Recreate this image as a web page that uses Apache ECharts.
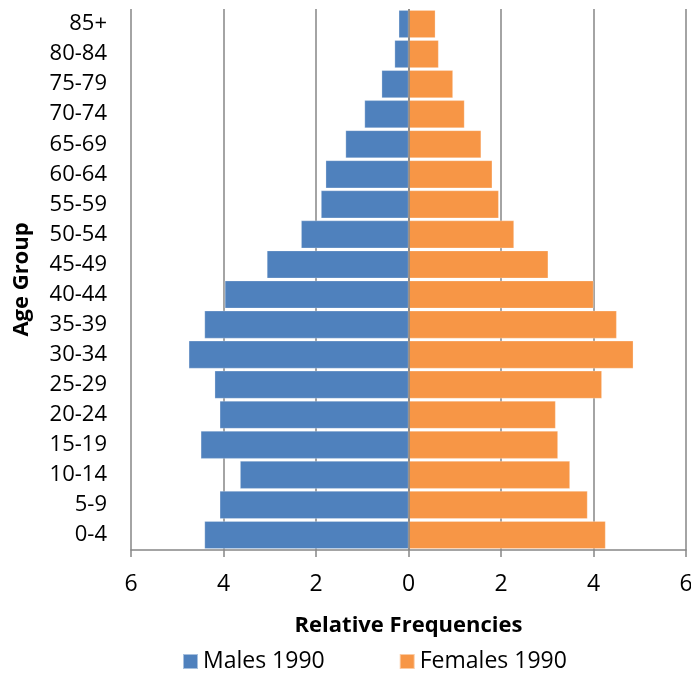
<!DOCTYPE html>
<html>
<head>
<meta charset="utf-8">
<script src="https://cdn.jsdelivr.net/npm/echarts@6/dist/echarts.min.js"></script>
<style>
html,body{margin:0;padding:0;background:#fff;}
#chart{width:691px;height:673px;}
</style>
</head>
<body>
<div id="chart"></div>
<script>
var ageGroups = ['0-4','5-9','10-14','15-19','20-24','25-29','30-34','35-39','40-44','45-49','50-54','55-59','60-64','65-69','70-74','75-79','80-84','85+'];
var males1990 = [4.41,4.08,3.64,4.49,4.08,4.19,4.75,4.41,3.97,3.06,2.32,1.89,1.79,1.36,0.95,0.58,0.30,0.21];
var females1990 = [4.26,3.87,3.49,3.23,3.18,4.18,4.86,4.50,4.00,3.02,2.28,1.95,1.81,1.57,1.21,0.96,0.65,0.58];
var xTicks = [-6,-4,-2,0,2,4,6];

var FONT = '"Open Sans", sans-serif';
var chart = echarts.init(document.getElementById('chart'));
chart.setOption({
  animation: false,
  backgroundColor: '#fff',
  grid: {left: 131, right: 5, top: 9, bottom: 123, containLabel: false, outerBoundsMode: 'none'},
  legend: {
    data: ['Males 1990', 'Females 1990'],
    left: 177, top: 645,
    itemWidth: 15, itemHeight: 15, itemGap: 74,
    icon: 'rect',
    textStyle: {fontFamily: FONT, fontSize: 23, color: '#000'}
  },
  xAxis: {
    type: 'value',
    min: xTicks[0], max: xTicks[xTicks.length - 1], interval: 2,
    name: 'Relative Frequencies',
    nameLocation: 'middle',
    nameGap: 65,
    nameTextStyle: {fontFamily: FONT, fontSize: 22, fontWeight: 'bold', color: '#000'},
    axisLine: {show: true, onZero: false, lineStyle: {color: '#868686', width: 1.5}},
    axisTick: {show: true, length: 7, lineStyle: {color: '#868686', width: 1.5}},
    axisLabel: {
      margin: 23,
      fontFamily: FONT, fontSize: 23, color: '#000',
      formatter: function (v) { return Math.abs(v); }
    },
    splitLine: {show: true, lineStyle: {color: '#868686', width: 1.5}}
  },
  yAxis: {
    type: 'category',
    data: ageGroups,
    name: 'Age Group',
    nameLocation: 'middle',
    nameGap: 98,
    nameTextStyle: {fontFamily: FONT, fontSize: 22, fontWeight: 'bold', color: '#000'},
    axisLine: {show: false},
    axisTick: {show: false},
    axisLabel: {margin: 24, fontFamily: FONT, fontSize: 22, color: '#000'}
  },
  series: [
    {
      name: 'Males 1990',
      type: 'bar',
      stack: 'pop',
      barCategoryGap: '8%',
      itemStyle: {color: '#4F81BD', borderColor: 'rgba(255,255,255,0.5)', borderWidth: 0.5},
      data: males1990.map(function (v) { return -v; }),
      markLine: {
        silent: true, symbol: 'none', label: {show: false},
        lineStyle: {color: '#868686', width: 1.5, type: 'solid'},
        data: [{xAxis: 0}]
      }
    },
    {
      name: 'Females 1990',
      type: 'bar',
      stack: 'pop',
      barCategoryGap: '8%',
      itemStyle: {color: '#F79646', borderColor: 'rgba(255,255,255,0.5)', borderWidth: 0.5},
      data: females1990
    }
  ]
});
</script>
</body>
</html>
